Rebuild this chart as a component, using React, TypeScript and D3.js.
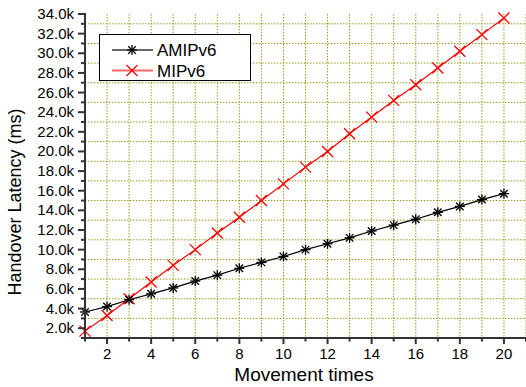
import * as d3 from "d3";

const moves = [1, 2, 3, 4, 5, 6, 7, 8, 9, 10, 11, 12, 13, 14, 15, 16, 17, 18, 19, 20];
const amipv6 = [3.65, 4.2, 4.9, 5.5, 6.1, 6.8, 7.4, 8.1, 8.7, 9.3, 10.0, 10.6, 11.2, 11.9, 12.5, 13.1, 13.8, 14.4, 15.1, 15.7];
const mipv6 = [1.7, 3.3, 5.0, 6.7, 8.4, 10.0, 11.7, 13.3, 15.0, 16.7, 18.4, 20.0, 21.8, 23.5, 25.2, 26.8, 28.5, 30.2, 31.9, 33.6];
const yMajor = [2, 4, 6, 8, 10, 12, 14, 16, 18, 20, 22, 24, 26, 28, 30, 32, 34];
const yMinor = [1, 3, 5, 7, 9, 11, 13, 15, 17, 19, 21, 23, 25, 27, 29, 31, 33];
const xMajor = [2, 4, 6, 8, 10, 12, 14, 16, 18, 20];
const xMinor = [1, 3, 5, 7, 9, 11, 13, 15, 17, 19, 21];

const W = 526;
const H = 387;
const left = 85;
const bottom = 338;
const top = 14;
const font = "'Liberation Sans', Arial, sans-serif";
const grid = "#9a9a20";
const axisCol = "#333";

export default function App() {
  const x = d3.scaleLinear().domain([1, 21]).range([left, W]);
  const y = d3.scaleLinear().domain([1, 34]).range([bottom, top]);

  const line = d3
    .line<number>()
    .x((_, i) => x(moves[i]))
    .y((d) => y(d));

  const star = (cx: number, cy: number, k: string) => {
    const r = 5;
    const d = r * 0.75;
    return (
      <g key={k} stroke="#000" strokeWidth={1.3}>
        <line x1={cx - r} y1={cy} x2={cx + r} y2={cy} />
        <line x1={cx} y1={cy - r} x2={cx} y2={cy + r} />
        <line x1={cx - d} y1={cy - d} x2={cx + d} y2={cy + d} />
        <line x1={cx - d} y1={cy + d} x2={cx + d} y2={cy - d} />
      </g>
    );
  };
  const cross = (cx: number, cy: number, k: string) => {
    const r = 5.5;
    return (
      <g key={k} stroke="#ff0000" strokeWidth={1.3}>
        <line x1={cx - r} y1={cy - r} x2={cx + r} y2={cy + r} />
        <line x1={cx - r} y1={cy + r} x2={cx + r} y2={cy - r} />
      </g>
    );
  };

  return (
    <svg
      width={W}
      height={H}
      style={{ position: "absolute", left: 0, top: 0, background: "#fff" }}
      fontFamily={font}
    >
      <rect width={W} height={H} fill="#fff" />
      {/* grid */}
      <g stroke={grid} strokeWidth={1} strokeDasharray="1.5,1.5">
        {yMinor.slice(1).map((v) => (
          <line key={"gy" + v} x1={left} x2={W} y1={y(v)} y2={y(v)} />
        ))}
        {moves.slice(1).concat([21]).map((v) => (
          <line key={"gx" + v} x1={x(v)} x2={x(v)} y1={top} y2={bottom} />
        ))}
      </g>

      {/* series */}
      <path d={line(mipv6) || ""} fill="none" stroke="#ff0000" strokeWidth={1.2} />
      <path d={line(amipv6) || ""} fill="none" stroke="#000" strokeWidth={1.2} />
      {mipv6.map((v, i) => cross(x(moves[i]), y(v), "m" + i))}
      {amipv6.map((v, i) => star(x(moves[i]), y(v), "a" + i))}

      {/* axes */}
      <g stroke={axisCol} strokeWidth={2}>
        <line x1={left} x2={left} y1={top - 1} y2={bottom + 1} />
        <line x1={left - 1} x2={W} y1={bottom} y2={bottom} />
        {yMajor.map((v) => (
          <line key={"ty" + v} x1={left - 7} x2={left} y1={y(v)} y2={y(v)} />
        ))}
        {yMinor.map((v) => (
          <line key={"tym" + v} x1={left - 4} x2={left} y1={y(v)} y2={y(v)} />
        ))}
        {xMajor.map((v) => (
          <line key={"tx" + v} x1={x(v)} x2={x(v)} y1={bottom} y2={bottom + 6} />
        ))}
        {xMinor.map((v) => (
          <line key={"txm" + v} x1={x(v)} x2={x(v)} y1={bottom} y2={bottom + 3.5} />
        ))}
      </g>
      <g fontSize={15} fill="#000">
        {yMajor.map((v) => (
          <text key={"ly" + v} x={left - 11} y={y(v) + 5} textAnchor="end">
            {v.toFixed(1) + "k"}
          </text>
        ))}
        {xMajor.map((v) => (
          <text key={"lx" + v} x={x(v)} y={bottom + 21} textAnchor="middle">
            {v}
          </text>
        ))}
      </g>
      <text x={304} y={381} fontSize={19} textAnchor="middle">
        Movement times
      </text>
      <text
        transform={`translate(21,202) rotate(-90)`}
        fontSize={18}
        textAnchor="middle"
      >
        Handover Latency (ms)
      </text>

      {/* legend */}
      <rect x={99.5} y={34.5} width={151} height={46} fill="#fff" stroke="#000" strokeWidth={1} />
      <line x1={112} x2={153} y1={50} y2={50} stroke="#666" strokeWidth={2} />
      {star(132, 50, "ls")}
      <text x={157} y={56} fontSize={17}>AMIPv6</text>
      <line x1={112} x2={153} y1={70.5} y2={70.5} stroke="#ff6666" strokeWidth={2} />
      {cross(132, 70.5, "lc")}
      <text x={157} y={76.5} fontSize={17}>MIPv6</text>
    </svg>
  );
}
